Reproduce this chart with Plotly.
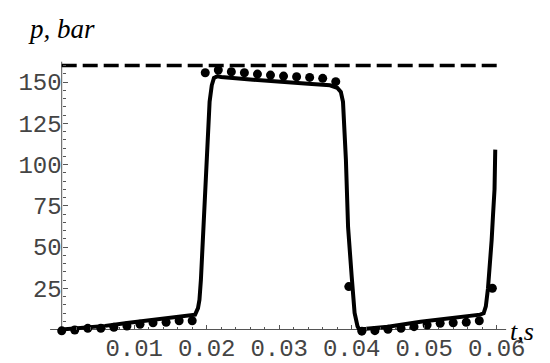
import plotly.graph_objects as go

# ---- data ----
# model curve (solid line)
curve_t = [0.0, 0.003, 0.006, 0.009, 0.012, 0.015, 0.0175, 0.0184,
           0.0188, 0.0190, 0.0192, 0.0195, 0.0198, 0.0201, 0.0204, 0.0207, 0.0210, 0.0215,
           0.022, 0.026, 0.030, 0.034, 0.037, 0.038,
           0.0385, 0.0388, 0.0392, 0.0395, 0.0400, 0.0404, 0.0408, 0.0410,
           0.042, 0.045, 0.0495, 0.054, 0.0577, 0.0582,
           0.0585, 0.0588, 0.0591, 0.0593, 0.0595, 0.0597, 0.0598]
curve_p = [0.0, 0.8, 2.2, 4.0, 5.6, 7.0, 8.3, 9.0,
           13, 18, 30, 60, 90, 118, 138, 148, 152.5, 153.5,
           153, 151.5, 150.5, 149, 148, 146.5,
           144, 138, 103, 62, 32, 10, 2, 0.3,
           0.5, 1.7, 4.7, 6.8, 9.0, 9.8,
           14, 25, 40, 54, 70, 85, 109]

# measured points (dots)
meas_t = [0.0, 0.0018, 0.0036, 0.0054, 0.0072, 0.0090, 0.0108, 0.0126, 0.0144, 0.0162, 0.0180,
          0.0198, 0.0216, 0.0234, 0.0252, 0.0270, 0.0288, 0.0306, 0.0324, 0.0342, 0.0360, 0.0378,
          0.0396,
          0.0414, 0.0432, 0.0450, 0.0468, 0.0486, 0.0504, 0.0522, 0.0540, 0.0558, 0.0576,
          0.0594]
meas_p = [-0.8, -0.3, 0.7, 0.7, 1.3, 2.1, 3.2, 4.1, 4.4, 5.3, 5.3,
          155.6, 157.3, 156.2, 155.6, 154.8, 154.2, 153.6, 153.2, 152.8, 152.2, 150.2,
          26,
          -1.0, -0.7, 0.1, 0.7, 1.7, 2.7, 3.8, 4.1, 4.4, 5.3,
          25]

# supply pressure limit (dashed)
limit_t = [0.0, 0.06]
limit_p = [160, 160]

x_ticks = [0.01, 0.02, 0.03, 0.04, 0.05, 0.06]
x_tick_text = ["0.01", "0.02", "0.03", "0.04", "0.05", "0.06"]
x_minor = [0.002, 0.004, 0.006, 0.008, 0.012, 0.014, 0.016, 0.018,
           0.022, 0.024, 0.026, 0.028, 0.032, 0.034, 0.036, 0.038,
           0.042, 0.044, 0.046, 0.048, 0.052, 0.054, 0.056, 0.058]
y_ticks = [25, 50, 75, 100, 125, 150]
y_tick_text = ["25", "50", "75", "100", "125", "150"]
y_minor = [5, 10, 15, 20, 30, 35, 40, 45, 55, 60, 65, 70, 80, 85, 90, 95,
           105, 110, 115, 120, 130, 135, 140, 145, 155, 160]

x_axis_span = [-0.0016, 0.0613]
y_axis_span = [0, 162.3]

# ---- figure ----
W, H = 550, 363
x0_px, y0_px = 61.7, 329.5
px_per_x = 7250.0
px_per_y = 1.65
x_range = [(0 - x0_px) / px_per_x, (W - x0_px) / px_per_x]
y_range = [(y0_px - H) / px_per_y, y0_px / px_per_y]

fig = go.Figure()

fig.add_trace(go.Scatter(x=limit_t, y=limit_p, mode="lines",
                         line=dict(color="black", width=3.5, dash="15px,6px"),
                         hoverinfo="skip", showlegend=False))
fig.add_trace(go.Scatter(x=curve_t, y=curve_p, mode="lines",
                         line=dict(color="black", width=4),
                         showlegend=False))
fig.add_trace(go.Scatter(x=meas_t, y=meas_p, mode="markers",
                         marker=dict(color="black", size=9),
                         cliponaxis=False, showlegend=False))

axis_col = "#555555"
fig.add_shape(type="line", x0=x_axis_span[0], x1=x_axis_span[1], y0=0, y1=0,
              line=dict(color=axis_col, width=1), layer="below")
fig.add_shape(type="line", x0=0, x1=0, y0=y_axis_span[0], y1=y_axis_span[1],
              line=dict(color=axis_col, width=1), layer="below")

tick_font = dict(family="Liberation Mono", size=24, color="#444444")

fig.update_layout(
    width=W, height=H,
    margin=dict(l=0, r=0, t=0, b=0, autoexpand=False),
    paper_bgcolor="white", plot_bgcolor="white",
    showlegend=False,
    xaxis=dict(range=x_range, showgrid=False, zeroline=False, showline=False,
               automargin=False,
               anchor="free", position=(H - y0_px) / H,
               tickmode="array", tickvals=x_ticks, ticktext=x_tick_text,
               ticks="inside", ticklen=5, tickwidth=1, tickcolor=axis_col,
               tickfont=tick_font, ticklabelstandoff=1,
               minor=dict(tickmode="array", tickvals=x_minor, ticks="inside",
                          ticklen=3, tickwidth=1, tickcolor=axis_col)),
    yaxis=dict(range=y_range, showgrid=False, zeroline=False, showline=False,
               automargin=False,
               anchor="free", position=x0_px / W,
               tickmode="array", tickvals=y_ticks, ticktext=y_tick_text,
               ticks="inside", ticklen=5, tickwidth=1, tickcolor=axis_col,
               tickfont=tick_font,
               minor=dict(tickmode="array", tickvals=y_minor, ticks="inside",
                          ticklen=3, tickwidth=1, tickcolor=axis_col)),
    annotations=[
        dict(text="p, bar", xref="paper", yref="paper", x=26 / W, y=1 - 29 / H,
             xanchor="left", yanchor="middle", showarrow=False,
             font=dict(family="Liberation Serif", size=27, color="black", style="italic")),
        dict(text="t,s", xref="paper", yref="paper", x=508 / W, y=1 - 331 / H,
             xanchor="left", yanchor="middle", showarrow=False,
             font=dict(family="Liberation Serif", size=26, color="black", style="italic")),
    ],
)

fig.write_html("out.html", config={"displayModeBar": False},
               post_script="document.body.style.margin='0';document.body.style.overflow='hidden';")
